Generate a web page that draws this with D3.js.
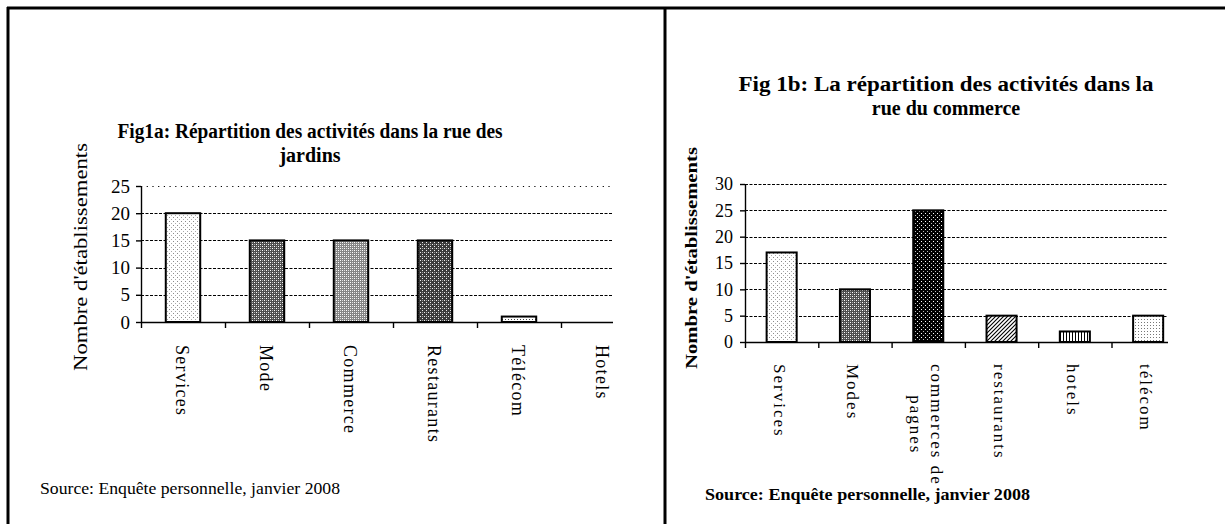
<!DOCTYPE html>
<html><head><meta charset="utf-8">
<script src="https://cdn.jsdelivr.net/npm/d3@7"></script>
<style>
html,body{margin:0;padding:0;background:#fff;}
svg{display:block;}
text{font-family:"Liberation Serif","Times New Roman",serif;fill:#000;}
</style></head><body>
<svg id="c" width="1225" height="524"></svg>
<script>
// ---------- data ----------
const categories1 = ["Services", "Mode", "Commerce", "Restaurants", "Télécom", "Hotels"];
const values1 = [20, 15, 15, 15, 1, 0];
const yTicks1 = [0, 5, 10, 15, 20, 25];
const title1 = ["Fig1a: Répartition des activités dans la rue des", "jardins"];

const categories2 = ["Services", "Modes", "commerces de\npagnes", "restaurants", "hotels", "télécom"];
const values2 = [17, 10, 25, 5, 2, 5];
const yTicks2 = [0, 5, 10, 15, 20, 25, 30];
const title2 = ["Fig 1b: La répartition des activités dans la", "rue du commerce"];

const yTitleText = "Nombre d'établissements";
const sourceText = "Source: Enquête personnelle, janvier 2008";

// ---------- drawing ----------
const svg = d3.select("#c");
const defs = svg.append("defs");

function pat(id, w, h, build) {
  const p = defs.append("pattern").attr("id", id).attr("patternUnits", "userSpaceOnUse")
    .attr("width", w).attr("height", h);
  build(p);
}
function px(p, x, y, c) { p.append("rect").attr("x", x).attr("y", y).attr("width", 1).attr("height", 1).attr("fill", c); }
function bg(p, w, h, c) { p.append("rect").attr("width", w).attr("height", h).attr("fill", c); }

pat("dotsLight", 4, 4, p => { bg(p, 4, 4, "#fff"); px(p, 1, 1, "#8a8a8a"); px(p, 3, 3, "#aaa"); });
pat("checkMid", 4, 4, p => { bg(p, 4, 4, "#4e4e4e"); px(p, 0, 0, "#fff"); px(p, 2, 2, "#fff"); px(p, 2, 0, "#aaa"); px(p, 0, 2, "#aaa"); });
pat("checkLight", 4, 4, p => { bg(p, 4, 4, "#858585"); px(p, 0, 0, "#fff"); px(p, 2, 2, "#fff"); px(p, 2, 0, "#ddd"); px(p, 0, 2, "#ddd"); });
pat("checkDark", 4, 4, p => { bg(p, 4, 4, "#3c3c3c"); px(p, 0, 0, "#eee"); px(p, 2, 2, "#eee"); px(p, 2, 0, "#999"); });
pat("dotsFine", 3, 3, p => { bg(p, 3, 3, "#fff"); px(p, 1, 1, "#444"); });
pat("blackDots", 4, 4, p => { bg(p, 4, 4, "#000"); px(p, 1, 1, "#fff"); px(p, 3, 3, "#bbb"); });
pat("diag", 4, 4, p => { bg(p, 4, 4, "#fff");
  p.append("path").attr("d", "M-1,1 L1,-1 M0,4 L4,0 M3,5 L5,3").attr("stroke", "#000").attr("stroke-width", 1.1); });
pat("vert", 3, 3, p => { bg(p, 3, 3, "#fff"); p.append("rect").attr("x", 1).attr("width", 1).attr("height", 3).attr("fill", "#000"); });
pat("dotsMed", 3, 3, p => { bg(p, 3, 3, "#fff"); px(p, 1, 1, "#777"); });

// frame
svg.append("line").attr("x1", 7).attr("x2", 1225).attr("y1", 8).attr("y2", 8).attr("stroke", "#000").attr("stroke-width", 3);
svg.append("line").attr("x1", 8).attr("x2", 8).attr("y1", 7).attr("y2", 524).attr("stroke", "#000").attr("stroke-width", 3);
svg.append("line").attr("x1", 665).attr("x2", 665).attr("y1", 7).attr("y2", 524).attr("stroke", "#000").attr("stroke-width", 3);

function fitText(t, len) { if (len) t.attr("textLength", len).attr("lengthAdjust", "spacingAndGlyphs"); return t; }

function drawChart(cfg) {
  const n = cfg.categories.length;
  const g = svg.append("g");
  const x = d3.scaleBand().domain(cfg.categories).range([cfg.x0, cfg.x0 + n * cfg.step])
    .paddingInner(0.59).paddingOuter(0.295);
  const xEdge = d3.scaleLinear().domain([0, n]).range([cfg.x0, cfg.x0 + n * cfg.step]);
  const y = d3.scaleLinear().domain([0, d3.max(cfg.yTicks)]).range([cfg.yBottom, cfg.yTop]);

  const clipId = "clip" + cfg.id;
  defs.append("clipPath").attr("id", clipId).append("rect")
    .attr("x", cfg.x0 - 6).attr("y", cfg.yTop - 5).attr("width", cfg.right - cfg.x0 + 6).attr("height", cfg.yBottom - cfg.yTop + 20);
  const plot = g.append("g").attr("clip-path", `url(#${clipId})`);

  // gridlines
  plot.selectAll("line.grid").data(cfg.yTicks.filter(d => d > 0)).join("line")
    .attr("class", "grid")
    .attr("x1", cfg.x0).attr("x2", cfg.right)
    .attr("y1", d => Math.round(y(d)) + 0.5).attr("y2", d => Math.round(y(d)) + 0.5)
    .attr("stroke", "#000").attr("stroke-width", 1)
    .attr("stroke-dasharray", d => (cfg.dottedTop && d === d3.max(cfg.yTicks)) ? "1.2,4.5" : "3,1.5");

  // bars
  plot.selectAll("rect.bar").data(cfg.values.map((v, i) => ({ c: cfg.categories[i], v, f: cfg.fills[i] })).filter(d => d.v > 0))
    .join("rect").attr("class", "bar")
    .attr("x", d => x(d.c)).attr("width", x.bandwidth())
    .attr("y", d => y(d.v)).attr("height", d => y(0) - y(d.v))
    .attr("fill", d => `url(#${d.f})`).attr("stroke", "#000").attr("stroke-width", 2);

  // x axis with ticks at category boundaries
  const xAxis = d3.axisBottom(xEdge).tickValues(d3.range(n + 1)).tickFormat("").tickSize(6).tickSizeOuter(0);
  const xa = plot.append("g").attr("transform", `translate(0,${y(0)})`).call(xAxis);
  xa.selectAll("path,line").attr("stroke", "#000").attr("stroke-width", 1.4);

  // y axis
  const yAxis = d3.axisLeft(y).tickValues(cfg.yTicks).tickSize(5).tickSizeOuter(0).tickPadding(cfg.tickPad);
  const ya = g.append("g").attr("transform", `translate(${cfg.x0},0)`).call(yAxis);
  ya.selectAll("path,line").attr("stroke", "#000").attr("stroke-width", 1.4);
  ya.selectAll("text").style("font-family", '"Liberation Serif","Times New Roman",serif')
    .style("font-size", cfg.tickFont + "px").attr("fill", "#000");

  // category labels (rotated, reading top to bottom)
  cfg.categories.forEach(c => {
    const lines = c.split("\n");
    const cx = x(c) + x.bandwidth() / 2 + cfg.catShift;
    const lg = g.append("g").attr("transform", `translate(${cx},${cfg.labelTop}) rotate(90)`);
    const t = lg.append("text").style("font-size", cfg.catFont + "px").attr("letter-spacing", cfg.catSpacing)
      .attr("dominant-baseline", "central");
    lines.forEach((ln, i) => {
      t.append("tspan").attr("x", 0).attr("y", (i - (lines.length - 1) / 2) * cfg.lineH).text(ln);
    });
    if (lines.length > 1) {
      const w = d3.max(t.selectAll("tspan").nodes(), nd => nd.getComputedTextLength());
      t.selectAll("tspan").attr("x", w / 2).attr("text-anchor", "middle");
    }
  });

  // titles
  cfg.title.forEach((ln, i) => {
    const t = g.append("text").attr("x", cfg.titleX).attr("y", cfg.titleY + i * cfg.titleLH)
      .attr("text-anchor", "middle").style("font-size", cfg.titleFont + "px").style("font-weight", "bold").text(ln);
    fitText(t, cfg.titleLens[i]);
  });

  // y title
  const yt = g.append("text").attr("transform", `translate(${cfg.yTitleX},${cfg.yTitleY}) rotate(-90)`)
    .attr("text-anchor", "middle").attr("dominant-baseline", "central")
    .style("font-size", cfg.yTitleFont + "px").style("font-weight", cfg.bold ? "bold" : "normal")
    .text(yTitleText);
  fitText(yt, cfg.yTitleLen);

  // source
  const st = g.append("text").attr("x", cfg.srcX).attr("y", cfg.srcY)
    .style("font-size", cfg.srcFont + "px").style("font-weight", cfg.bold ? "bold" : "normal")
    .text(sourceText);
  fitText(st, cfg.srcLen);
}

drawChart({
  id: 1, categories: categories1, values: values1, yTicks: yTicks1, title: title1,
  fills: ["dotsLight", "checkMid", "checkLight", "checkDark", "dotsFine", "dotsLight"],
  x0: 141, step: 84, right: 613, yTop: 186, yBottom: 322, dottedTop: true,
  tickFont: 19, tickPad: 6, catFont: 18, catSpacing: 1.3, catShift: -1, labelTop: 345, lineH: 20,
  titleX: 310, titleY: 138, titleLH: 24, titleFont: 20, titleLens: [385, null],
  yTitleX: 80, yTitleY: 257, yTitleFont: 19, yTitleLen: 228, bold: false,
  srcX: 40, srcY: 494, srcFont: 17, srcLen: 300
});

drawChart({
  id: 2, categories: categories2, values: values2, yTicks: yTicks2, title: title2,
  fills: ["dotsLight", "checkMid", "blackDots", "diag", "vert", "dotsMed"],
  x0: 745, step: 73.3, right: 1168, yTop: 184, yBottom: 342, dottedTop: false,
  tickFont: 18, tickPad: 7, catFont: 17, catSpacing: 2, catShift: -2, labelTop: 364, lineH: 21,
  titleX: 946, titleY: 91, titleLH: 24, titleFont: 20, titleLens: [415, null],
  yTitleX: 691, yTitleY: 258, yTitleFont: 17, yTitleLen: 222, bold: true,
  srcX: 705, srcY: 500, srcFont: 16, srcLen: 325
});
</script>
</body></html>
